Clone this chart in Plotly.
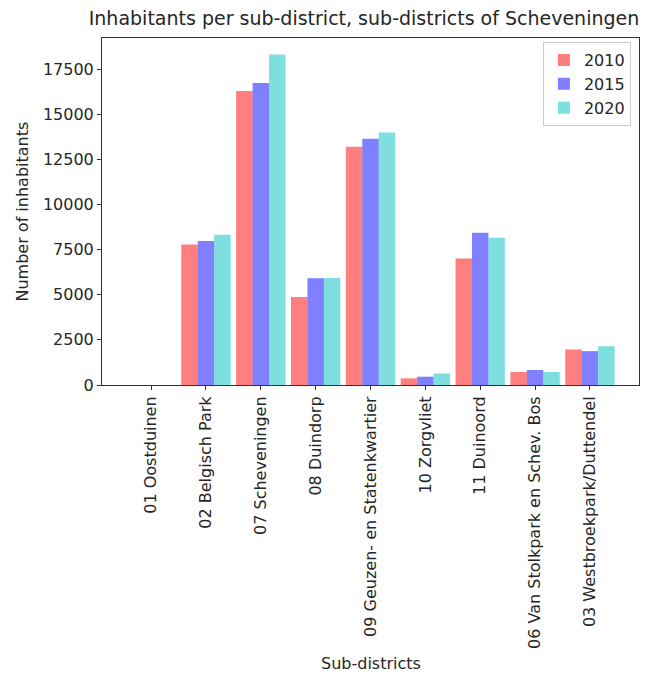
import plotly.graph_objects as go

# Inhabitants per sub-district of Scheveningen, three reference years
districts = [
    "01 Oostduinen",
    "02 Belgisch Park",
    "07 Scheveningen",
    "08 Duindorp",
    "09 Geuzen- en Statenkwartier",
    "10 Zorgvliet",
    "11 Duinoord",
    "06 Van Stolkpark en Schev. Bos",
    "03 Westbroekpark/Duttendel",
]
inhabitants_2010 = [0, 7790, 16290, 4870, 13200, 370, 7005, 720, 1970]
inhabitants_2015 = [0, 7980, 16730, 5920, 13640, 460, 8440, 830, 1875]
inhabitants_2020 = [0, 8330, 18310, 5925, 13990, 640, 8165, 720, 2150]

years = ["2010", "2015", "2020"]
colors = ["rgba(255,0,0,0.5)", "rgba(0,0,255,0.5)", "rgba(0,191,191,0.5)"]
series = [inhabitants_2010, inhabitants_2015, inhabitants_2020]

FONT = "DejaVu Sans"
TXT = "#262626"
FS = 16

fig = go.Figure()
for name, vals, col in zip(years, series, colors):
    fig.add_trace(go.Bar(
        x=districts, y=vals, name=name,
        marker=dict(color=col, line=dict(width=0)),
    ))

ymax = max(max(s) for s in series) * 1.05

fig.update_layout(
    width=651, height=675,
    margin=dict(l=102, r=12, t=38, b=290),
    paper_bgcolor="white", plot_bgcolor="white",
    barmode="group", bargap=0.1, bargroupgap=0,
    font=dict(family=FONT, size=FS, color=TXT),
    title=dict(
        text="Inhabitants per sub-district, sub-districts of Scheveningen",
        x=(364 - 102) / (639 - 102), xref="paper", xanchor="center",
        y=1 - 18 / 675, yanchor="middle",
        font=dict(family=FONT, size=19, color=TXT),
    ),
    legend=dict(
        x=0.985, y=0.988, xanchor="right", yanchor="top",
        bgcolor="rgba(255,255,255,0.8)", bordercolor="#cccccc", borderwidth=1,
        font=dict(family=FONT, size=FS, color=TXT),
        itemwidth=30, tracegroupgap=0,
    ),
    xaxis=dict(
        type="category", range=[-0.895, 8.895],
        showline=True, mirror=True, linecolor="#333333", linewidth=1,
        showgrid=False, zeroline=False,
        ticks="outside", ticklen=4, tickcolor="#333333",
        tickangle=-90, tickfont=dict(family=FONT, size=FS, color=TXT),
    ),
    yaxis=dict(
        range=[0, ymax],
        tickvals=[0, 2500, 5000, 7500, 10000, 12500, 15000, 17500],
        ticktext=["0", "2500", "5000", "7500", "10000", "12500", "15000", "17500"],
        showline=True, mirror=True, linecolor="#333333", linewidth=1,
        showgrid=False, zeroline=False,
        ticks="outside", ticklen=4, tickcolor="#333333",
        tickfont=dict(family=FONT, size=FS, color=TXT),
    ),
    annotations=[
        dict(text="Sub-districts", xref="paper", yref="paper",
             x=0.5, y=-(663 - 385) / (385 - 38), xanchor="center", yanchor="middle",
             showarrow=False, font=dict(family=FONT, size=FS, color=TXT)),
        dict(text="Number of inhabitants", xref="paper", yref="paper",
             x=-(102 - 22) / (639 - 102), y=0.5, xanchor="center", yanchor="middle",
             textangle=-90, showarrow=False,
             font=dict(family=FONT, size=FS, color=TXT)),
    ],
)

fig.write_html("out.html")
